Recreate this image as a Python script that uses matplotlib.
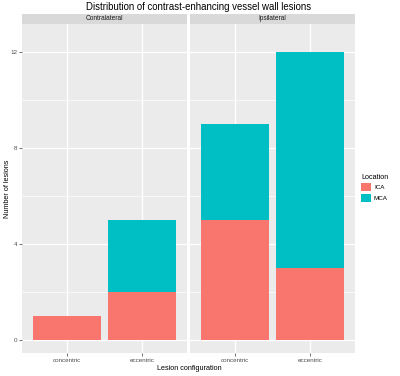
import matplotlib
matplotlib.use('Agg')
import matplotlib.pyplot as plt
from matplotlib.patches import Patch

plt.rcParams['font.family'] = ['Liberation Sans', 'DejaVu Sans']

# Data
sides = ['Contralateral', 'Ipsilateral']
configs = ['concentric', 'eccentric']
locations = ['ICA', 'MCA']
ica = {'Contralateral': [1, 2], 'Ipsilateral': [5, 3]}
mca = {'Contralateral': [0, 3], 'Ipsilateral': [4, 9]}
colors = {'ICA': '#F8766D', 'MCA': '#00BFC4'}

W, H = 400, 376
fig = plt.figure(figsize=(W / 100, H / 100), dpi=100)

def box(l, t, r, b):
    # pixel box -> figure fraction
    return [l / W, 1 - b / H, (r - l) / W, (b - t) / H]

panels = [(22, 187), (190, 355)]
for k, side in enumerate(sides):
    l, r = panels[k]
    ax = fig.add_axes(box(l, 24, r, 353))
    ax.set_facecolor('#EBEBEB')
    xs = range(len(configs))
    ax.bar(xs, ica[side], width=0.9, color=colors['ICA'], zorder=3)
    ax.bar(xs, mca[side], width=0.9, bottom=ica[side], color=colors['MCA'], zorder=3)
    ax.set_xlim(-0.6, 1.6)
    ax.set_ylim(-0.54, 13.17)
    ax.set_yticks([0, 4, 8, 12])
    ax.set_yticks([2, 6, 10], minor=True)
    ax.set_xticks(list(xs))
    ax.set_xticklabels(configs)
    ax.grid(True, which='major', color='white', linewidth=1.0, zorder=0)
    ax.grid(True, which='minor', axis='y', color='white', linewidth=0.5, zorder=0)
    ax.set_axisbelow(True)
    for s in ax.spines.values():
        s.set_visible(False)
    ax.tick_params(axis='both', which='major', length=2, width=0.5, color='#333333',
                   labelsize=4.5, labelcolor='#4D4D4D', pad=1.5)
    ax.tick_params(axis='y', which='minor', length=0)
    if k > 0:
        ax.tick_params(axis='y', which='major', length=0, labelleft=False)
    # facet strip
    sax = fig.add_axes(box(l, 14, r, 24))
    sax.set_facecolor('#D9D9D9')
    sax.set_xticks([])
    sax.set_yticks([])
    for s in sax.spines.values():
        s.set_visible(False)
    sax.text(0.5, 0.5, side, ha='center', va='center', fontsize=4.7, color='#1A1A1A',
             transform=sax.transAxes)

fig.text(199 / W, 1 - 7 / H, 'Distribution of contrast-enhancing vessel wall lesions',
         ha='center', va='center', fontsize=6.9)
fig.text(189 / W, 1 - 369 / H, 'Lesion configuration', ha='center', va='center', fontsize=5.2)
fig.text(8 / W, 1 - 189 / H, 'Number of lesions', ha='center', va='center',
         rotation=90, fontsize=5.2)

handles = [Patch(facecolor=colors[loc], label=loc) for loc in locations]
leg = fig.legend(handles=handles, title='Location', loc='upper left',
                 bbox_to_anchor=(359 / W, 1 - 172 / H), frameon=False,
                 fontsize=4.5, title_fontsize=5.2, handlelength=1.6, handleheight=1.6,
                 handletextpad=0.5, labelspacing=0.4, borderpad=0.3, borderaxespad=0)
leg._legend_box.align = 'left'

fig.savefig('out.png', dpi=100)
